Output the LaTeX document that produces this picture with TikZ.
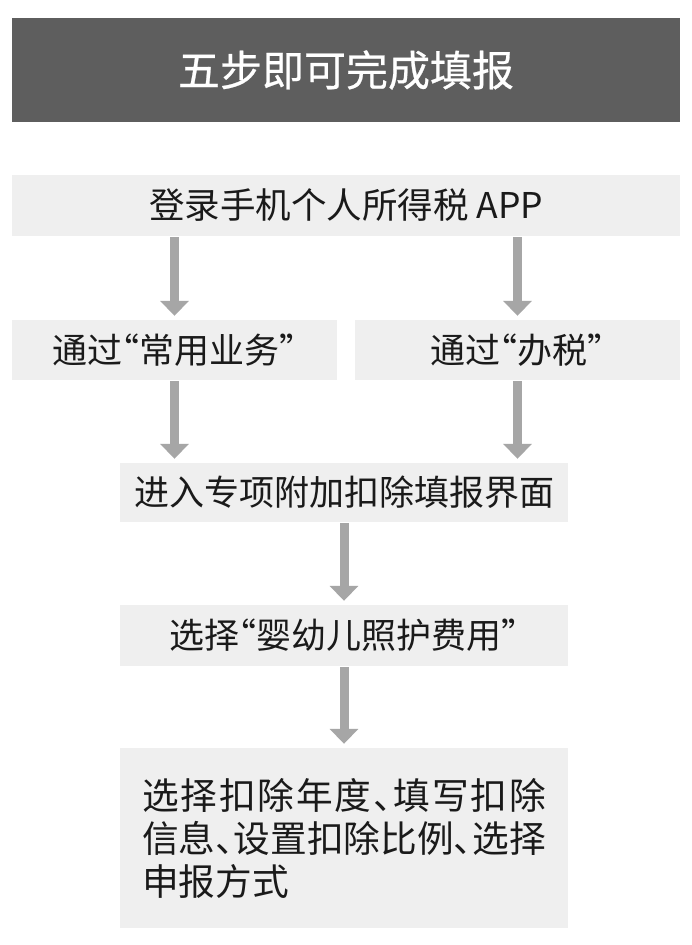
\documentclass[tikz,border=0pt]{standalone}
\usepackage{fontspec}
\setmainfont{Noto Sans CJK SC}
\usetikzlibrary{arrows.meta}
\definecolor{titlegray}{HTML}{5E5E5E}
\definecolor{boxgray}{HTML}{EFEFEF}
\definecolor{arrowgray}{HTML}{A6A6A6}
\definecolor{textblack}{HTML}{1A1A1A}
\newcommand\mydun{\makebox[0.5em][l]{、}}
\newcommand\myopen{\makebox[0.5em][r]{“}}
\newcommand\myclose{\makebox[0.5em][l]{”}}
\begin{document}
\begin{tikzpicture}[x=1pt,y=-1pt,
  titlebox/.style={fill=titlegray,text=white,inner sep=0pt,minimum width=668pt,minimum height=104pt,font=\fontsize{42}{48}\selectfont\addfontfeature{FakeBold=0.6}},
  stepbox/.style={fill=boxgray,text=textblack,inner sep=0pt,font=\fontsize{35}{42}\selectfont},
  flowarrow/.style={draw=arrowgray,line width=9pt,-{Triangle[width=28pt,length=15pt]},shorten >=4pt,shorten <=1pt}]
\useasboundingbox (0,0) rectangle (692,945);
\fill[white] (0,0) rectangle (692,945);
\node[titlebox] (title) at (346,70) {五步即可完成填报};
\node[stepbox,minimum width=668pt,minimum height=61pt,font=\fontsize{35.5}{42}\selectfont] (b1) at (346,205.5) {登录手机个人所得税 APP};
\node[stepbox,minimum width=325pt,minimum height=60pt] (b2a) at (174.5,350) {通过\myopen 常用业务\myclose};
\node[stepbox,minimum width=325pt,minimum height=60pt] (b2b) at (517.5,350) {通过\myopen 办税\myclose};
\node[stepbox,minimum width=448pt,minimum height=59pt] (b3) at (344,492.5) {进入专项附加扣除填报界面};
\node[stepbox,minimum width=448pt,minimum height=61pt] (b4) at (344,635.5) {选择\myopen 婴幼儿照护费用\myclose};
\node[stepbox,minimum width=448pt,minimum height=180pt] (b5) at (344,838) {};
\node[text=textblack,inner sep=0pt,align=left,text width=404pt,font=\fontsize{36.7}{43}\selectfont] (t5) at (b5.center) {\makebox[404pt][s]{选\hfil 择\hfil 扣\hfil 除\hfil 年\hfil 度\hfil\mydun\hfil 填\hfil 写\hfil 扣\hfil 除}\\信息\mydun 设置扣除比例\mydun 选择\\申报方式};
\draw[flowarrow] (b1.south -| b2a.north) -- (b2a.north);
\draw[flowarrow] (b1.south -| b2b.north) -- (b2b.north);
\draw[flowarrow] (b2a.south) -- (b3.north -| b2a.south);
\draw[flowarrow] (b2b.south) -- (b3.north -| b2b.south);
\draw[flowarrow] (b3.south) -- (b4.north);
\draw[flowarrow] (b4.south) -- (b5.north);
\end{tikzpicture}
\end{document}
